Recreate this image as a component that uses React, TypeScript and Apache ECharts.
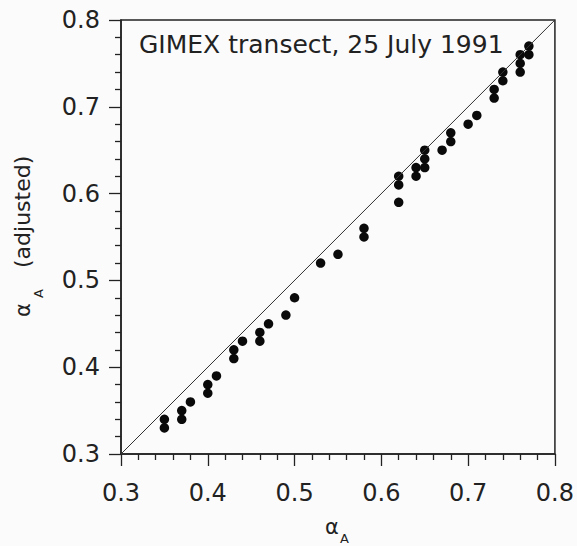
import React, { useEffect, useRef } from "react";
import * as echarts from "echarts";

const xTicks = [0.3, 0.4, 0.5, 0.6, 0.7, 0.8];
const xValues = [
  0.35, 0.35, 0.37, 0.37, 0.38, 0.40, 0.40, 0.41, 0.43, 0.43, 0.44, 0.46, 0.46, 0.47,
  0.49, 0.50, 0.53, 0.55, 0.58, 0.58, 0.62, 0.62, 0.62, 0.64, 0.64, 0.65, 0.65, 0.65,
  0.67, 0.68, 0.68, 0.70, 0.71, 0.73, 0.73, 0.74, 0.74, 0.76, 0.76, 0.76, 0.77, 0.77,
];
const yValues = [
  0.34, 0.33, 0.35, 0.34, 0.36, 0.38, 0.37, 0.39, 0.42, 0.41, 0.43, 0.44, 0.43, 0.45,
  0.46, 0.48, 0.52, 0.53, 0.56, 0.55, 0.62, 0.61, 0.59, 0.63, 0.62, 0.65, 0.64, 0.63,
  0.65, 0.67, 0.66, 0.68, 0.69, 0.72, 0.71, 0.74, 0.73, 0.76, 0.75, 0.74, 0.77, 0.76,
];
const diagonal = [0.3, 0.8];
const titleText = "GIMEX transect, 25 July 1991";

const FONT = "DejaVu Sans";
const INK = "#222";

export default function App() {
  const ref = useRef<HTMLDivElement>(null);
  useEffect(() => {
    if (!ref.current) return;
    const chart = echarts.init(ref.current, undefined, { renderer: "svg" });
    const axisCommon = {
      type: "value" as const,
      min: xTicks[0],
      max: xTicks[xTicks.length - 1],
      interval: 0.1,
      axisLine: { show: true, lineStyle: { color: INK, width: 1.5 } },
      axisTick: { show: true, inside: false, length: 12, lineStyle: { color: INK, width: 1.3 } },
      minorTick: { show: true, splitNumber: 5, length: 6, lineStyle: { color: INK, width: 1.3 } },
      splitLine: { show: false },
      minorSplitLine: { show: false },
    };
    chart.setOption({
      animation: false,
      backgroundColor: "#fbfbfb",
      grid: {
        left: 121,
        top: 20,
        width: 434,
        height: 434,
        show: true,
        borderColor: INK,
        borderWidth: 1.5,
        backgroundColor: "transparent",
      },
      xAxis: {
        ...axisCommon,
        axisLabel: {
          fontSize: 24,
          fontFamily: FONT,
          color: INK,
          margin: 27,
          formatter: (v: number) => v.toFixed(1),
        },
      },
      yAxis: {
        ...axisCommon,
        axisLabel: {
          fontSize: 24,
          fontFamily: FONT,
          color: INK,
          margin: 21,
          formatter: (v: number) => v.toFixed(1),
        },
      },
      series: [
        {
          type: "line",
          data: diagonal.map((d) => [d, d]),
          symbol: "none",
          lineStyle: { color: "#333", width: 1 },
          silent: true,
        },
        {
          type: "scatter",
          data: xValues.map((x, i) => [x, yValues[i]]),
          symbol: "circle",
          symbolSize: 9.5,
          itemStyle: { color: "#0a0a0a", opacity: 1 },
        },
      ],
      graphic: [
        {
          type: "text",
          left: 139,
          top: 32,
          style: {
            text: titleText,
            fontSize: 25,
            fontFamily: FONT,
            fill: INK,
          },
        },
        {
          type: "group",
          x: 0,
          y: 0,
          rotation: Math.PI / 2,
          children: [
            {
              type: "text",
              x: -317,
              y: 23,
              style: { text: "α", fontSize: 21, fontFamily: FONT, fill: INK, align: "left", verticalAlign: "middle" },
            },
            {
              type: "text",
              x: -298,
              y: 38,
              style: { text: "A", fontSize: 13, fontFamily: FONT, fill: INK, align: "left", verticalAlign: "middle" },
            },
            {
              type: "text",
              x: -268,
              y: 22,
              style: { text: "(adjusted)", fontSize: 22, fontFamily: FONT, fill: INK, align: "left", verticalAlign: "middle" },
            },
          ],
        },
        {
          type: "text",
          x: 325,
          y: 527,
          style: { text: "α", fontSize: 21, fontFamily: FONT, fill: INK, align: "left", verticalAlign: "middle" },
        },
        {
          type: "text",
          x: 340,
          y: 538,
          style: { text: "A", fontSize: 13, fontFamily: FONT, fill: INK, align: "left", verticalAlign: "middle" },
        },
      ],
    });
    return () => chart.dispose();
  }, []);
  return (
    <div
      ref={ref}
      style={{ position: "fixed", left: 0, top: 0, width: 577, height: 546 }}
    />
  );
}
